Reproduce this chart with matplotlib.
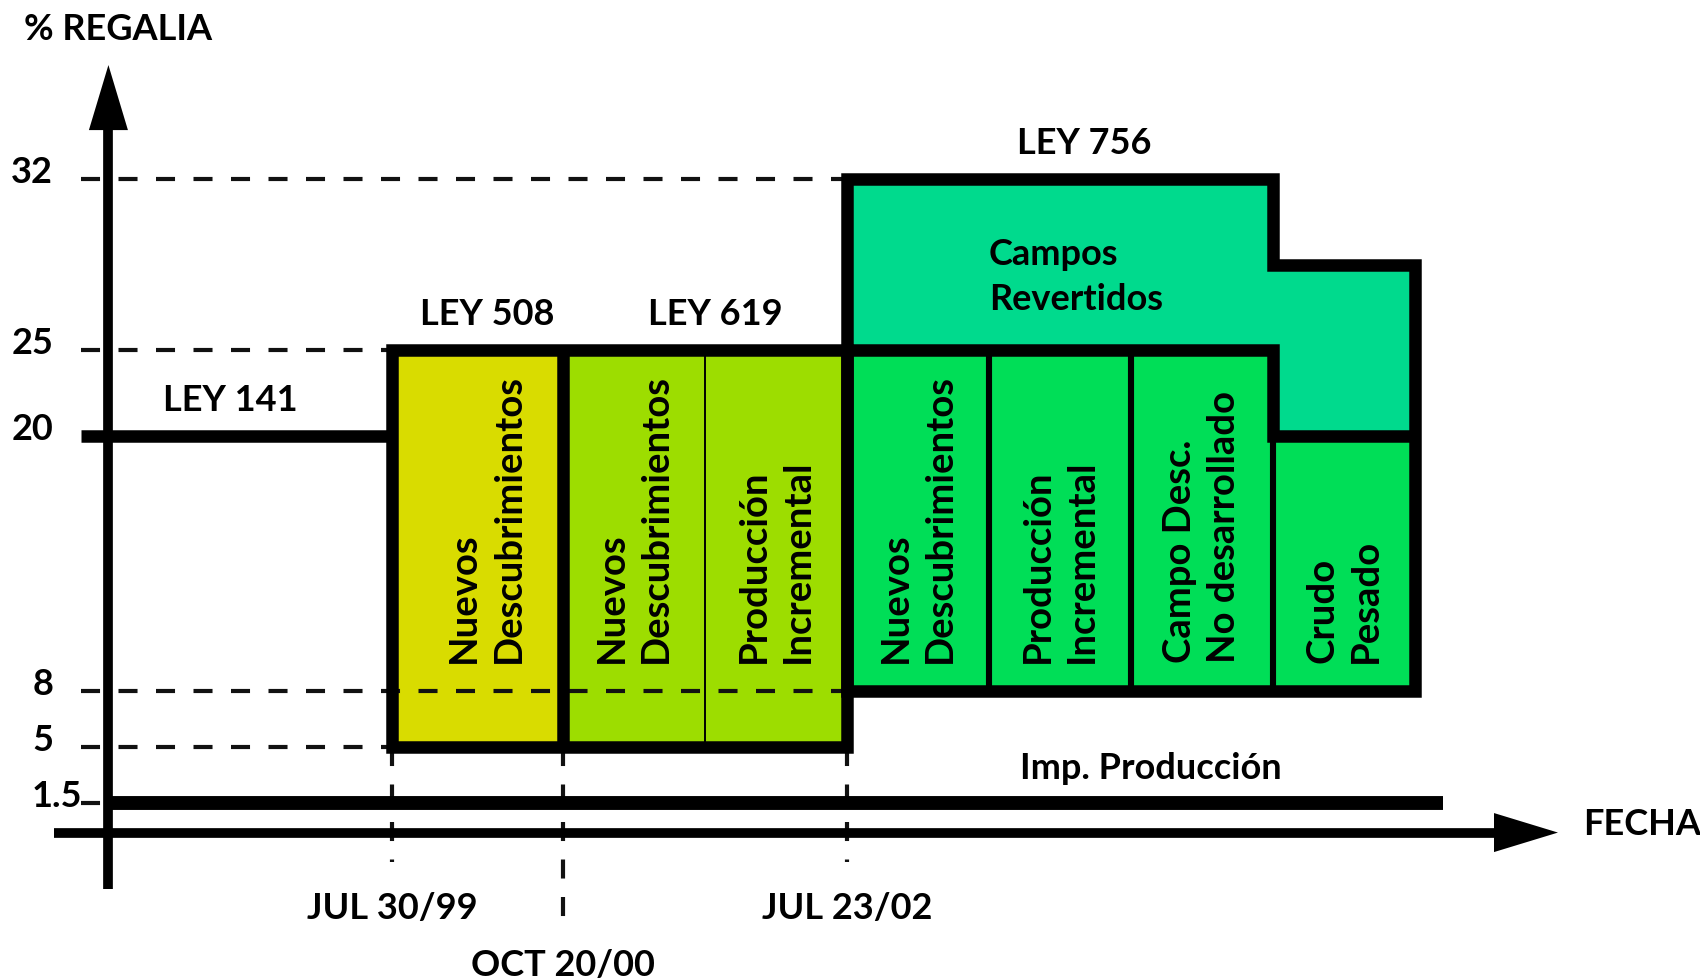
import numpy as np
import matplotlib
matplotlib.use('Agg')
import matplotlib.pyplot as plt
from matplotlib.patches import Polygon, Rectangle

plt.rcParams['lines.scale_dashes'] = False

# ---------------- data ----------------
level_values = [32, 25, 20, 8, 5, 1.5]
level_labels = ['32', '25', '20', '8', '5', '1.5']

date_labels = ['JUL 30/99', 'OCT 20/00', 'JUL 23/02']
date_pos = [2.0, 3.2, 5.2]          # schematic time axis (column units)

law_labels = ['LEY 141', 'LEY 508', 'LEY 619', 'LEY 756']

ley141_rate = 20
ley141_end = 2.0

ley508_cols = ['Nuevos\nDescubrimientos']
ley508_edges = [2.0, 3.2]
ley508_range = [5, 25]

ley619_cols = ['Nuevos\nDescubrimientos', 'Producción\nIncremental']
ley619_edges = [3.2, 4.2, 5.2]
ley619_range = [5, 25]

ley756_cols = ['Nuevos\nDescubrimientos', 'Producción\nIncremental',
               'Campo Desc.\nNo desarrollado', 'Crudo\nPesado']
ley756_edges = [5.2, 6.2, 7.2, 8.2, 9.2]
ley756_low = 8
ley756_high = [25, 25, 25, 20]

revertidos_label = 'Campos\nRevertidos'
revertidos_high = [32, 32, 32, 28.5]

imp_label = 'Imp. Producción'
imp_rate = 1.5
imp_end = 9.4

# ---------------- layout ----------------
W, H = 1568.0, 904.0            # reference drawing units
X0, XU = 100.0, 131.0           # y-axis position, width of one column
PT = 72.0 / 100 * 1700 / 1568   # points per drawing unit


def px2x(px):
    return (px - X0) / XU


# the original drawing uses a schematic (non proportional) vertical scale
_kv = np.array([-20.0, 0.0, 1.5, 5.0, 8.0, 20.0, 25.0, 32.0, 60.0])
_kp = np.array([1128.0, 768.0, 741.0, 689.0, 637.0, 402.0, 323.0, 165.0, -467.0])


def fwd(v):
    return np.interp(np.asarray(v, float), _kv, -_kp)


def inv(t):
    return np.interp(np.asarray(t, float), -_kp, _kv)


def py2v(py):
    return float(inv(-py))


C508 = '#D9DC00'
C619 = '#9DDD00'
C756 = '#00DE57'
CREV = '#00DA8D'
FONT = dict(family=['Lato', 'DejaVu Sans'], weight='bold', size=26)
COLFONT = dict(family=['Lato', 'DejaVu Sans'], weight='bold', size=27.5)
THICK = 9.0

fig = plt.figure(figsize=(17, 9.8), dpi=100)
ax = fig.add_axes([0, 0, 1, 1])
ax.set_yscale('function', functions=(fwd, inv))
ax.set_xlim(px2x(0), px2x(W))
ax.set_ylim(py2v(H), py2v(0))
ax.axis('off')

# ---------------- fills ----------------
for x0, x1 in zip(ley508_edges[:-1], ley508_edges[1:]):
    ax.add_patch(Rectangle((x0, ley508_range[0]), x1 - x0, ley508_range[1] - ley508_range[0],
                           fc=C508, ec='none', zorder=1))
for x0, x1 in zip(ley619_edges[:-1], ley619_edges[1:]):
    ax.add_patch(Rectangle((x0, ley619_range[0]), x1 - x0, ley619_range[1] - ley619_range[0],
                           fc=C619, ec='none', zorder=1))
for i, (x0, x1) in enumerate(zip(ley756_edges[:-1], ley756_edges[1:])):
    ax.add_patch(Rectangle((x0, ley756_low), x1 - x0, ley756_high[i] - ley756_low,
                           fc=C756, ec='none', zorder=1))
    ax.add_patch(Rectangle((x0, ley756_high[i]), x1 - x0, revertidos_high[i] - ley756_high[i],
                           fc=CREV, ec='none', zorder=1))

# ---------------- dashed reference lines ----------------
dash_kw = dict(color='#111111', lw=3.0, dashes=(13.7, 13.3), dash_capstyle='butt', zorder=2)
xs = px2x(75)
ref_ends = {32: ley756_edges[0], 25: ley508_edges[0], 8: ley756_edges[0],
            5: ley508_edges[0], 1.5: 0.0}
for v, xe in ref_ends.items():
    ax.plot([xs, xe], [v, v], **dash_kw)

date_row = [0, 1, 0]
for xp, row in zip(date_pos, date_row):
    ax.plot([xp, xp], [ley508_range[0], py2v(795 if row == 0 else 850)], **dash_kw)

# ---------------- thin dividers ----------------
for xd in ley619_edges[1:-1]:
    ax.plot([xd, xd], ley619_range, color='black', lw=1.4, zorder=3)
for i in range(1, len(ley756_edges) - 1):
    top = min(ley756_high[i - 1], ley756_high[i])
    ax.plot([ley756_edges[i]] * 2, [ley756_low, top], color='black', lw=4.4, zorder=3,
            solid_capstyle='butt')


def dedupe(pts):
    out = []
    for p in pts:
        if not out or (abs(out[-1][0] - p[0]) > 1e-9 or abs(out[-1][1] - p[1]) > 1e-9):
            out.append(p)
    # drop collinear interior points
    res = []
    for j, p in enumerate(out):
        if 0 < j < len(out) - 1:
            a, b = out[j - 1], out[j + 1]
            if (abs(a[0] - p[0]) < 1e-9 and abs(b[0] - p[0]) < 1e-9) or \
               (abs(a[1] - p[1]) < 1e-9 and abs(b[1] - p[1]) < 1e-9):
                continue
        res.append(p)
    return res


# ---------------- thick borders ----------------
border_kw = dict(fill=False, ec='black', lw=THICK, joinstyle='miter', zorder=4)
ax.add_patch(Polygon([(ley508_edges[0], ley508_range[0]), (ley508_edges[0], ley508_range[1]),
                      (ley619_edges[-1], ley619_range[1]), (ley619_edges[-1], ley619_range[0])],
                     closed=True, **border_kw))
ax.plot([ley619_edges[0]] * 2, ley619_range, color='black', lw=THICK, zorder=4,
        solid_capstyle='butt')

outer = [(ley756_edges[0], ley756_low)]
for i in range(len(ley756_cols)):
    outer += [(ley756_edges[i], revertidos_high[i]), (ley756_edges[i + 1], revertidos_high[i])]
outer += [(ley756_edges[-1], ley756_low)]
ax.add_patch(Polygon(dedupe(outer), closed=True, **border_kw))

inner = []
for i in range(len(ley756_cols)):
    inner += [(ley756_edges[i], ley756_high[i]), (ley756_edges[i + 1], ley756_high[i])]
inner = dedupe(inner)
ax.plot([p[0] for p in inner], [p[1] for p in inner], color='black', lw=THICK, zorder=4,
        solid_joinstyle='miter', solid_capstyle='butt')

ax.plot([xs, ley141_end], [ley141_rate] * 2, color='black', lw=THICK, zorder=4,
        solid_capstyle='butt')
ax.plot([0, imp_end], [imp_rate] * 2, color='black', lw=10, zorder=4, solid_capstyle='butt')

# ---------------- axes with arrows ----------------
ax.plot([0, 0], [py2v(820), py2v(115)], color='black', lw=7, zorder=4, solid_capstyle='butt')
ax.add_patch(Polygon([(0, py2v(60)), (px2x(82), py2v(120)), (px2x(118), py2v(120))],
                     closed=True, fc='black', ec='none', zorder=4))
ax.plot([px2x(50), px2x(1385)], [0, 0], color='black', lw=7, zorder=4, solid_capstyle='butt')
ax.add_patch(Polygon([(px2x(1437), 0), (px2x(1378), py2v(750)), (px2x(1378), py2v(786))],
                     closed=True, fc='black', ec='none', zorder=4))

# ---------------- texts ----------------
for v, lab in zip(level_values, level_labels):
    if lab == '1.5':
        xf, ha = 29 / W, 'left'
    else:
        xf, ha = 49 / W, 'right'
    ax.annotate(lab, xy=(xf, v), xycoords=('axes fraction', 'data'), xytext=(0, -3),
                textcoords='offset points', ha=ha, va='baseline', zorder=5, **FONT)

law_levels = [ley141_rate, ley508_range[1], ley619_range[1], revertidos_high[0]]
law_label_x = [0.86, 2.67, 4.27, 6.87]
for lab, lx, lv in zip(law_labels, law_label_x, law_levels):
    ax.annotate(lab, xy=(lx, lv), xytext=(0, 18), textcoords='offset points',
                ha='center', va='baseline', zorder=5, **FONT)

ax.annotate(imp_label, xy=(7.34, imp_rate), xytext=(0, 17.5), textcoords='offset points',
            ha='center', va='baseline', zorder=5, **FONT)

col_text_kw = dict(xytext=(0, 25 * PT), textcoords='offset points', rotation=90,
                   ha='center', va='bottom', multialignment='left', linespacing=1.36,
                   zorder=5, **COLFONT)
for cols, edges in [(ley508_cols, ley508_edges), (ley619_cols, ley619_edges),
                    (ley756_cols, ley756_edges)]:
    for i, lab in enumerate(cols):
        xc = (edges[i] + edges[i + 1]) / 2
        off = 8 * PT if len(cols) == 1 else 0
        kw = dict(col_text_kw)
        kw['xytext'] = (off, 25 * PT)
        ax.annotate(lab, xy=(xc, ley756_low), **kw)

ax.annotate(revertidos_label, xy=(ley756_edges[1], (revertidos_high[0] + ley756_high[0]) / 2),
            xytext=(0, -9), textcoords='offset points', ha='left', va='center',
            linespacing=1.45, zorder=5, **FONT)

for lab, xp, row in zip(date_labels, date_pos, date_row):
    yb = 848 if row == 0 else 900
    ax.annotate(lab, xy=(xp, 1 - yb / H), xycoords=('data', 'axes fraction'),
                ha='center', va='baseline', zorder=5, **FONT)

ax.text(1460 / W, 1 - 770 / H, 'FECHA', transform=ax.transAxes, ha='left', va='baseline',
        **FONT)
ax.text(22 / W, 1 - 37 / H, '% REGALIA', transform=ax.transAxes, ha='left', va='baseline',
        **FONT)

fig.savefig('out.png', dpi=100, facecolor='white')
